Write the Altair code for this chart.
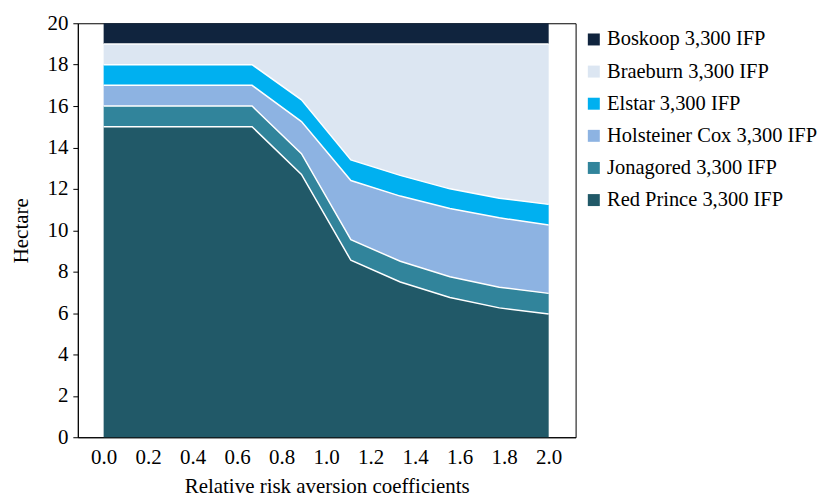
import altair as alt
import pandas as pd

x_vals = [0.0, 0.222, 0.444, 0.667, 0.889, 1.111, 1.333, 1.556, 1.778, 2.0]
series = ["Boskoop 3,300 IFP", "Braeburn 3,300 IFP", "Elstar 3,300 IFP",
          "Holsteiner Cox 3,300 IFP", "Jonagored 3,300 IFP", "Red Prince 3,300 IFP"]
colors = ["#10243e", "#dce6f2", "#00b0f0", "#8db3e2", "#31849b", "#215968"]

red_prince = [15.0, 15.0, 15.0, 15.0, 12.7, 8.55, 7.5, 6.75, 6.25, 5.95]
jonagored = [1.0, 1.0, 1.0, 1.0, 1.0, 1.0, 1.0, 1.0, 1.0, 1.0]
holsteiner = [1.0, 1.0, 1.0, 1.0, 1.55, 2.85, 3.15, 3.3, 3.35, 3.3]
elstar = [1.0, 1.0, 1.0, 1.0, 1.05, 1.0, 1.0, 0.95, 0.95, 1.0]
braeburn = [1.0, 1.0, 1.0, 1.0, 2.7, 5.6, 6.35, 7.0, 7.45, 7.75]
boskoop = [1.0, 1.0, 1.0, 1.0, 1.0, 1.0, 1.0, 1.0, 1.0, 1.0]

values_by_series = {
    series[0]: boskoop,
    series[1]: braeburn,
    series[2]: elstar,
    series[3]: holsteiner,
    series[4]: jonagored,
    series[5]: red_prince,
}

rows = []
for s, vals in values_by_series.items():
    rank = len(series) - 1 - series.index(s)  # Red Prince at bottom
    for xv, v in zip(x_vals, vals):
        rows.append({"x": xv, "series": s, "value": v, "rank": rank})
df = pd.DataFrame(rows)

FONT = "Liberation Serif"
FS = 21

base = alt.Chart(df).transform_stack(
    stack="value", groupby=["x"], as_=["y0", "y1"],
    sort=[alt.SortField("rank", order="ascending")]
)

xscale = alt.Scale(domain=[-0.116, 2.121], nice=False, zero=False)
yscale = alt.Scale(domain=[0, 20], nice=False)

area = base.mark_area(opacity=1).encode(
    x=alt.X("x:Q", scale=xscale,
            axis=alt.Axis(values=[0.0, 0.2, 0.4, 0.6, 0.8, 1.0, 1.2, 1.4, 1.6, 1.8, 2.0],
                          format=".1f", ticks=False, grid=False, labelPadding=9,
                          title="Relative risk aversion coefficients", titlePadding=8)),
    y=alt.Y("y0:Q", scale=yscale,
            axis=alt.Axis(values=list(range(0, 21, 2)), tickSize=5, grid=False,
                          labelPadding=5, title="Hectare", titlePadding=15)),
    y2="y1:Q",
    color=alt.Color("series:N", scale=alt.Scale(domain=series, range=colors),
                    legend=alt.Legend(title=None, orient="none", legendX=507, legendY=6,
                                      symbolType="square", symbolSize=144,
                                      symbolStrokeWidth=0, labelFontSize=20.5,
                                      labelFont=FONT, labelColor="black",
                                      labelOffset=3, rowPadding=11.2, labelLimit=400)),
    order=alt.Order("rank:Q"),
)

lines = base.transform_filter(alt.datum.rank < 5).mark_line(
    color="white", strokeWidth=1.5
).encode(
    x=alt.X("x:Q", scale=xscale),
    y=alt.Y("y1:Q", scale=yscale),
    detail="series:N",
)

chart = alt.layer(area, lines).properties(
    width=499, height=415,
    autosize=alt.AutoSizeParams(type="none"),
    padding={"left": 70, "top": 14.7, "right": 245, "bottom": 60},
).configure_view(
    stroke="black", strokeWidth=1
).configure_axis(
    labelFont=FONT, titleFont=FONT, labelFontSize=FS, titleFontSize=FS,
    titleFontWeight="normal", labelColor="black", titleColor="black",
    domainColor="black", tickColor="black", domainWidth=1,
)

chart.save("out.html", embed_options={"renderer": "svg", "actions": False})
